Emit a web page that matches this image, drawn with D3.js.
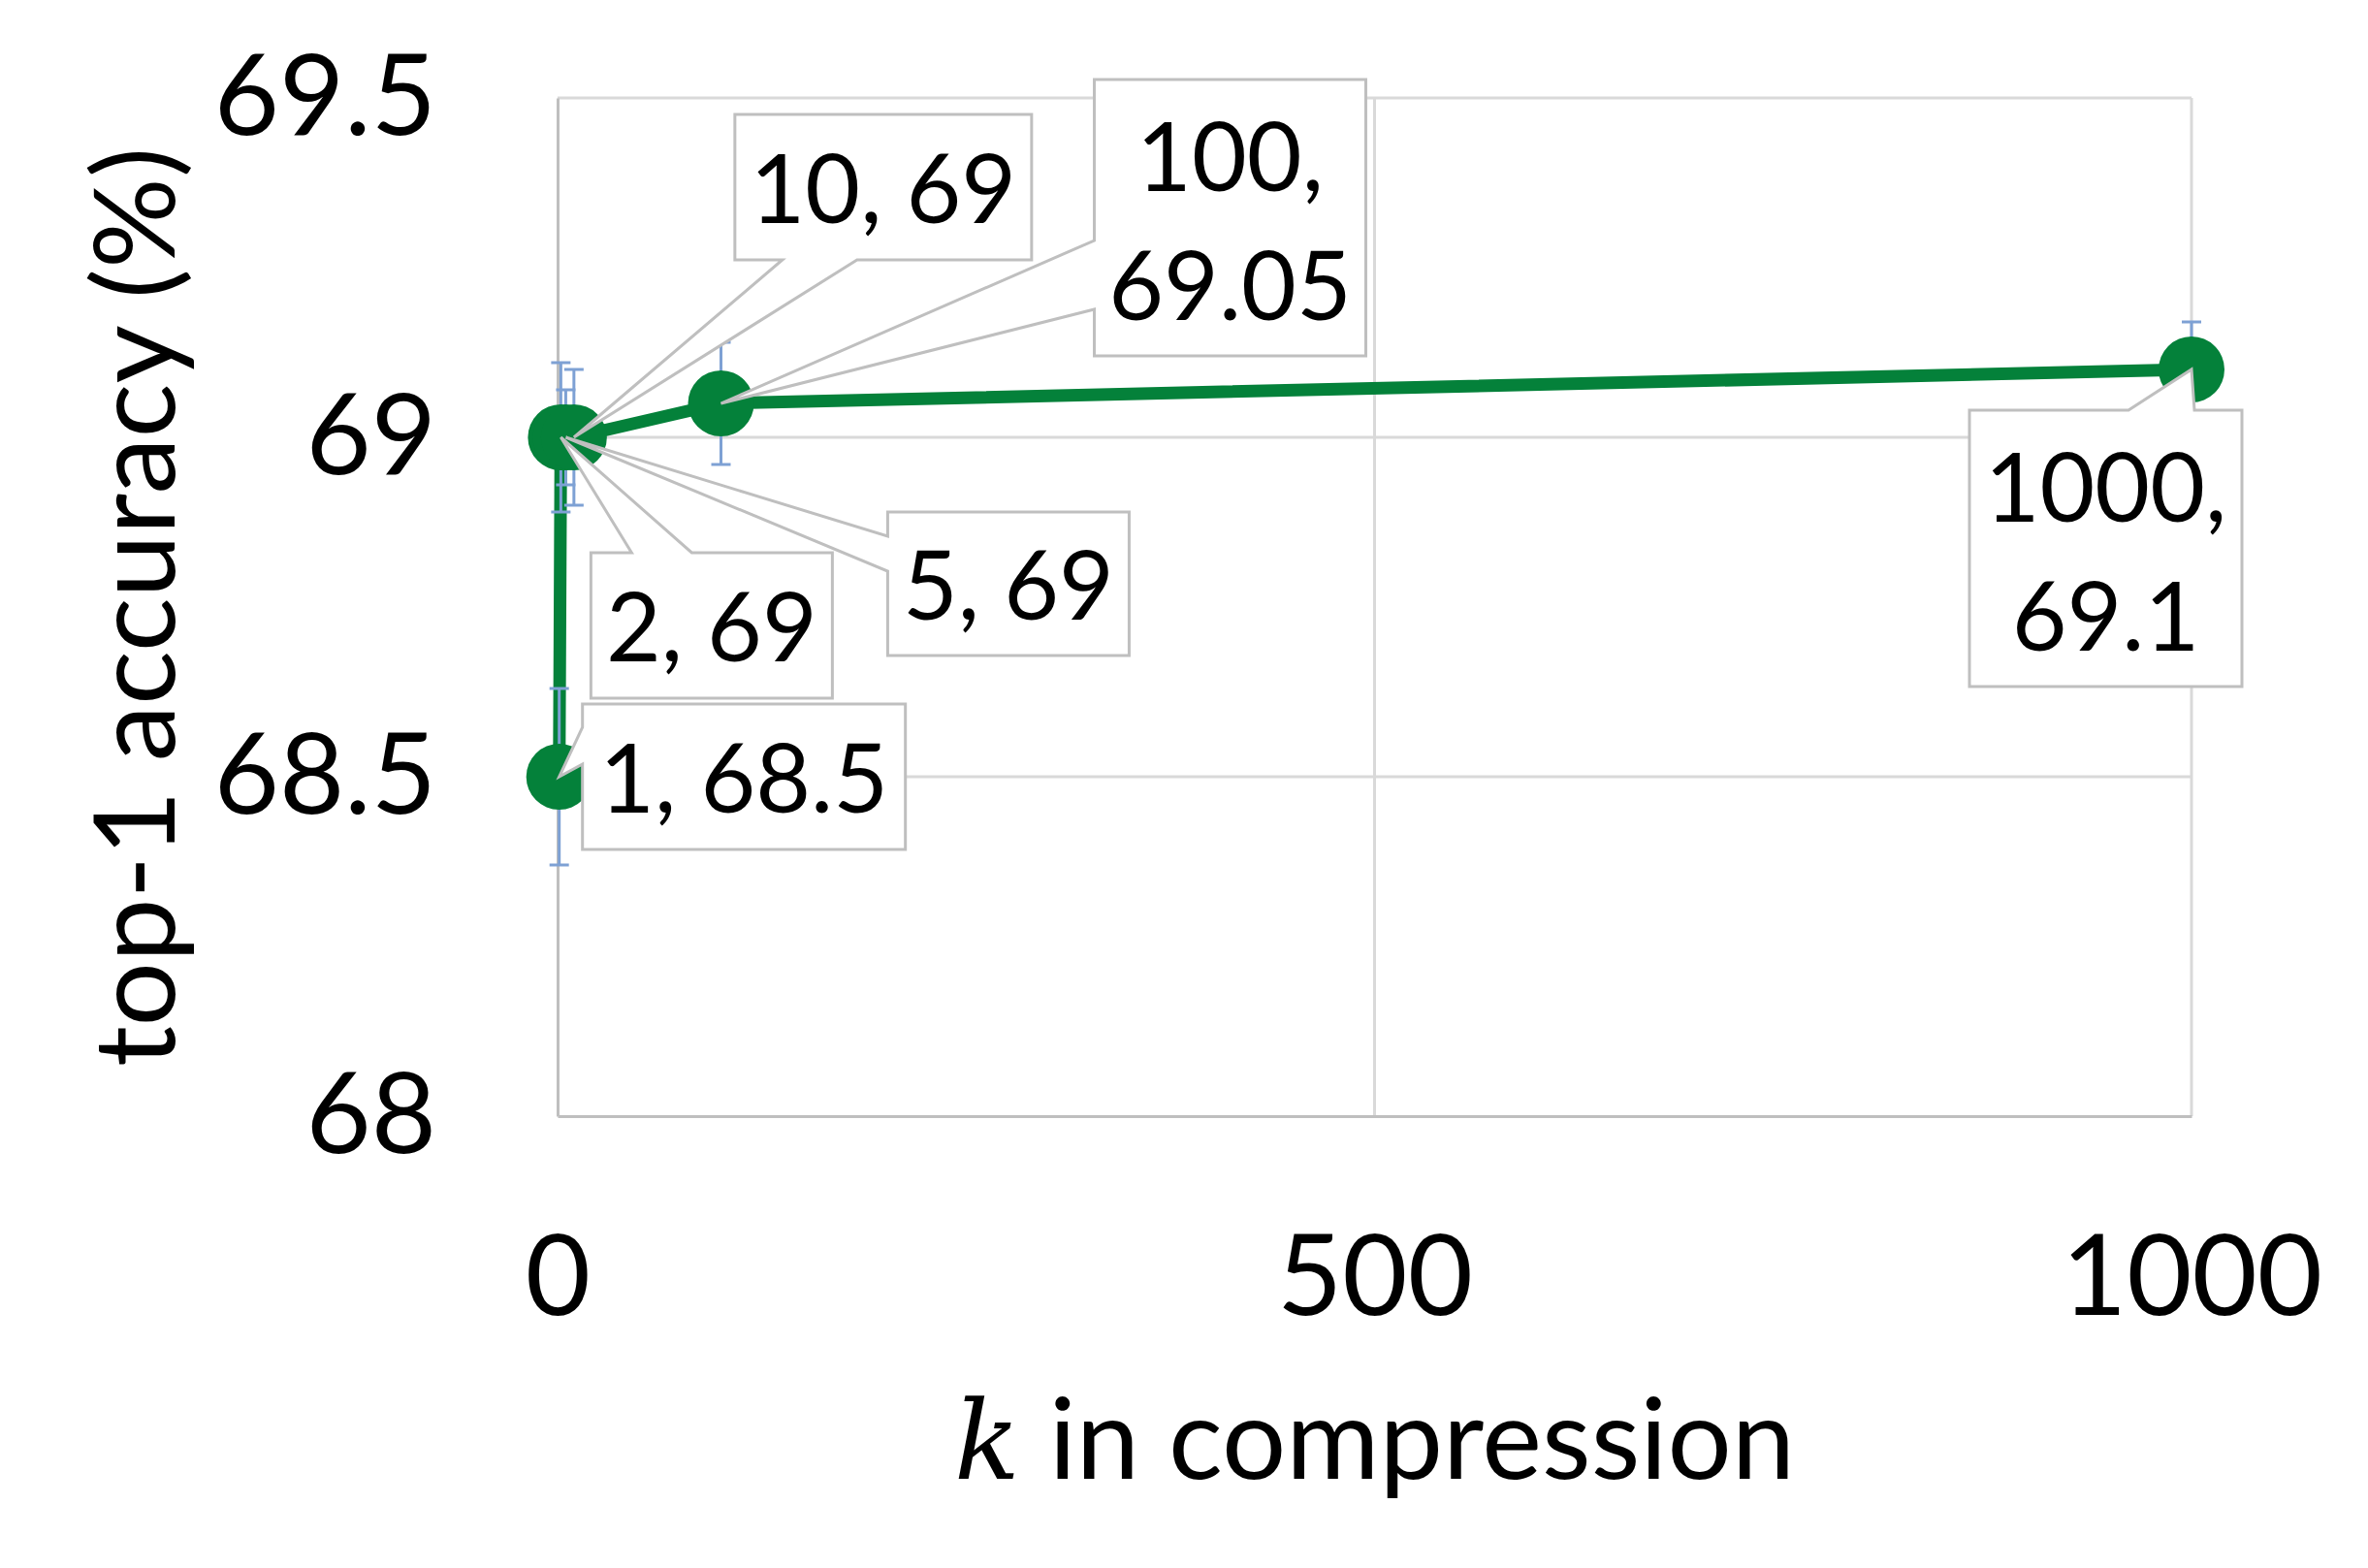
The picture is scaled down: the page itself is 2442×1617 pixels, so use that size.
<!DOCTYPE html>
<html>
<head>
<meta charset="utf-8">
<script src="https://cdn.jsdelivr.net/npm/d3@7/dist/d3.min.js"></script>
<style>
  html, body { margin: 0; padding: 0; background: #fff; }
  svg { display: block; }
  text { font-family: Lato, "Open Sans", "Noto Sans", sans-serif; fill: #000; }
</style>
</head>
<body>
<script>
// ---------- data ----------
const kValues   = [1, 2, 5, 10, 100, 1000];
const accuracy  = [68.5, 69, 69, 69, 69.05, 69.1];
const errorBars = [0.13, 0.11, 0.07, 0.10, 0.09, 0.07];
const xTicks = [0, 500, 1000];
const yTicks = [68, 68.5, 69, 69.5];
const xTitleItalic = "k";
const xTitleRest = " in compression";
const yTitle = "top-1 accuracy (%)";

// ---------- layout (callout boxes, relative to the point) ----------
const calloutLayout = [
  { dx: 24,   dy: -75,  w: 333, h: 150, side: "left",   b1: 24,  b2: 62,  split: false },
  { dx: 31,   dy: 119,  w: 249, h: 150, side: "top",    b1: 42,  b2: 104, split: false },
  { dx: 332,  dy: 77,   w: 249, h: 148, side: "left",   b1: 25,  b2: 61,  split: false },
  { dx: 166,  dy: -333, w: 306, h: 150, side: "bottom", b1: 49,  b2: 126, split: false },
  { dx: 385,  dy: -334, w: 280, h: 285, side: "left",   b1: 166, b2: 237, split: true },
  { dx: -229, dy: 42,   w: 281, h: 285, side: "top",    b1: 164, b2: 232, split: true }
];

const W = 2442, H = 1617;
const margin = { left: 575, right: W - 2260, top: 101, bottom: H - 1151 };

const svg = d3.select("body").append("svg").attr("width", W).attr("height", H);
svg.append("rect").attr("width", W).attr("height", H).attr("fill", "#fff");

const x = d3.scaleLinear().domain([0, 1000]).range([margin.left, W - margin.right]);
const y = d3.scaleLinear().domain([68, 69.5]).range([H - margin.bottom, margin.top]);

const gridColor = "#d9d9d9", axisColor = "#bfbfbf";
const green = "#04813a", errColor = "#7ea1d4";

// gridlines
svg.append("g").selectAll("line.hg").data(yTicks.filter(d => d > 68)).join("line")
  .attr("x1", x(0)).attr("x2", x(1000)).attr("y1", d => y(d)).attr("y2", d => y(d))
  .attr("stroke", gridColor).attr("stroke-width", 3);
svg.append("g").selectAll("line.vg").data(xTicks.filter(d => d > 0)).join("line")
  .attr("y1", y(68)).attr("y2", y(69.5)).attr("x1", d => x(d)).attr("x2", d => x(d))
  .attr("stroke", gridColor).attr("stroke-width", 3);

// axes
const tickFont = 116;
const gy = svg.append("g").attr("transform", `translate(${x(0)},0)`)
  .call(d3.axisLeft(y).tickValues(yTicks).tickSize(0).tickSizeOuter(0).tickPadding(125)
    .tickFormat(d => String(d)));
const gx = svg.append("g").attr("transform", `translate(0,${y(68)})`)
  .call(d3.axisBottom(x).tickValues(xTicks).tickSize(0).tickSizeOuter(0).tickPadding(123)
    .tickFormat(d => String(d)));
[gx, gy].forEach(g => {
  g.select(".domain").attr("stroke", axisColor).attr("stroke-width", 3);
  g.selectAll("text").attr("font-size", tickFont).attr("font-family", "Lato").attr("fill", "#000");
});

// titles
svg.append("text")
  .attr("transform", `translate(180,${(y(68) + y(69.5)) / 2}) rotate(-90)`)
  .attr("text-anchor", "middle").attr("font-size", 117).text(yTitle);
const xt = svg.append("text").attr("x", (x(0) + x(1000)) / 2).attr("y", 1525)
  .attr("text-anchor", "middle").attr("font-size", 117);
xt.append("tspan").attr("font-family", "'DejaVu Serif', 'Liberation Serif', serif")
  .attr("font-style", "italic").attr("font-size", 112).text(xTitleItalic);
xt.append("tspan").text(xTitleRest);

const pts = kValues.map((k, i) => ({ k, v: accuracy[i], e: errorBars[i], px: x(k), py: y(accuracy[i]) }));

// series line
svg.append("path").datum(pts)
  .attr("d", d3.line().x(d => d.px).y(d => d.py))
  .attr("fill", "none").attr("stroke", green).attr("stroke-width", 13)
  .attr("stroke-linejoin", "round");

// error bars
const eb = svg.append("g").attr("stroke", errColor).attr("stroke-width", 3);
pts.forEach(d => {
  eb.append("line").attr("x1", d.px).attr("x2", d.px).attr("y1", y(d.v - d.e)).attr("y2", y(d.v + d.e));
  [d.v - d.e, d.v + d.e].forEach(v => {
    eb.append("line").attr("x1", d.px - 10).attr("x2", d.px + 10).attr("y1", y(v)).attr("y2", y(v));
  });
});

// markers
svg.append("g").selectAll("circle").data(pts).join("circle")
  .attr("cx", d => d.px).attr("cy", d => d.py).attr("r", 34).attr("fill", green);

// callouts
function calloutPath(x0, y0, w, h, side, b1, b2, ax, ay) {
  const x1 = x0 + w, y1 = y0 + h;
  const p = [[x0, y0]];
  if (side === "top") p.push([x0 + b1, y0], [ax, ay], [x0 + b2, y0]);
  p.push([x1, y0], [x1, y1]);
  if (side === "bottom") p.push([x0 + b2, y1], [ax, ay], [x0 + b1, y1]);
  p.push([x0, y1]);
  if (side === "left") p.push([x0, y0 + b2], [ax, ay], [x0, y0 + b1]);
  return "M" + p.map(q => q.join(",")).join("L") + "Z";
}
const labelFont = 98;
const cg = svg.append("g");
pts.forEach((d, i) => {
  const L = calloutLayout[i];
  const x0 = d.px + L.dx, y0 = d.py + L.dy;
  cg.append("path").attr("d", calloutPath(x0, y0, L.w, L.h, L.side, L.b1, L.b2, d.px, d.py))
    .attr("fill", "#fff").attr("stroke", axisColor).attr("stroke-width", 3).attr("stroke-linejoin", "miter");
  const cx = x0 + L.w / 2, cy = y0 + L.h / 2;
  const t = cg.append("text").attr("text-anchor", "middle").attr("font-size", labelFont);
  if (L.split) {
    t.append("tspan").attr("x", cx).attr("y", cy - 28).text(`${d.k},`);
    t.append("tspan").attr("x", cx).attr("y", cy + 105).text(`${d.v}`);
  } else {
    t.attr("x", cx).attr("y", cy + 37).text(`${d.k}, ${d.v}`);
  }
});
</script>
</body>
</html>
